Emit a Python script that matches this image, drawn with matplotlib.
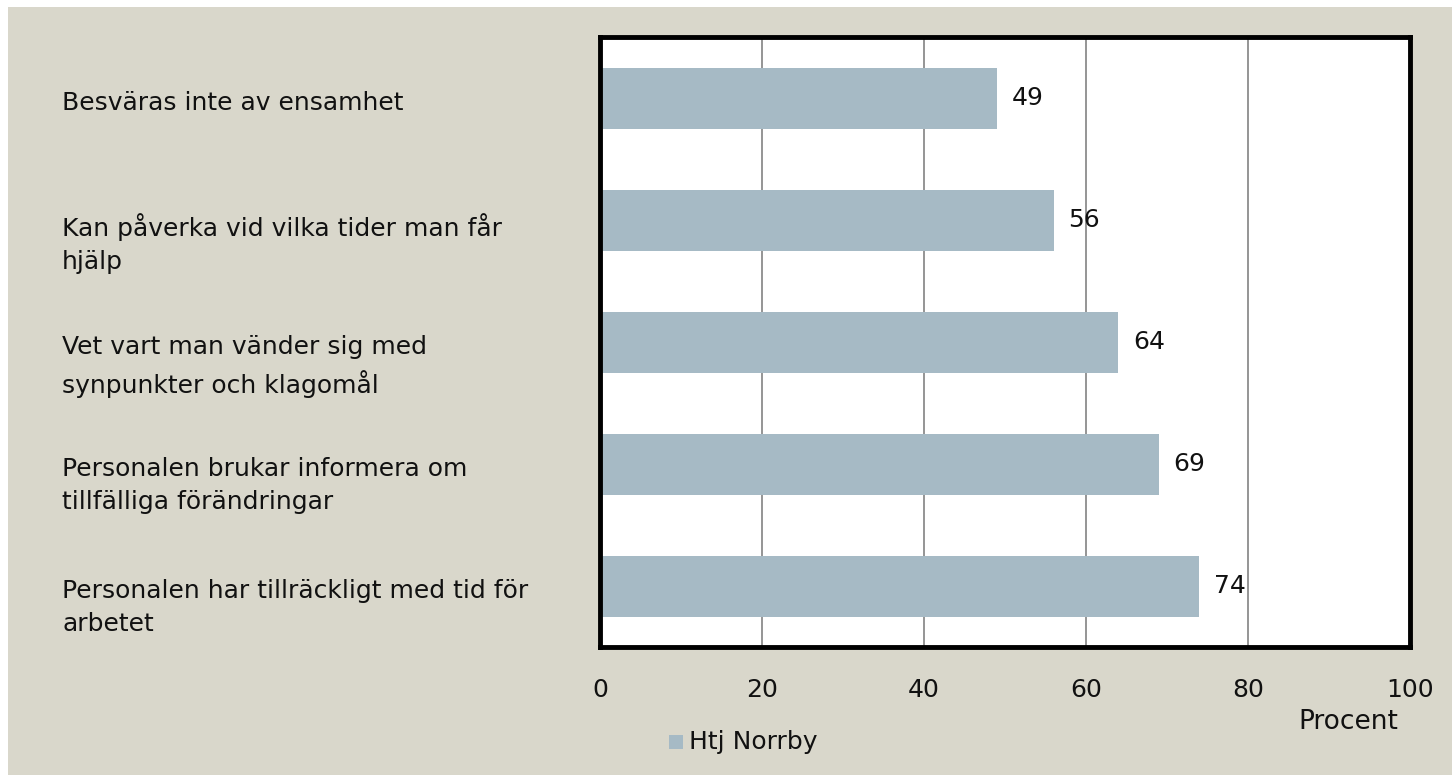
import matplotlib.pyplot as plt
from matplotlib.patches import Rectangle
import matplotlib.transforms as mtransforms

# Data
categories = [
    'Besväras inte av ensamhet',
    'Kan påverka vid vilka tider man får\nhjälp',
    'Vet vart man vänder sig med\nsynpunkter och klagomål',
    'Personalen brukar informera om\ntillfälliga förändringar',
    'Personalen har tillräckligt med tid för\narbetet',
]
values = [49, 56, 64, 69, 74]
series_name = 'Htj Norrby'
x_ticks = [0, 20, 40, 60, 80, 100]

bg_color = '#D9D7CB'
bar_color = '#A6BAC5'
font = 'DejaVu Sans'
fs = 18

plt.rcParams['font.family'] = font

fig = plt.figure(figsize=(14.52, 7.75), dpi=100)
fig.patch.set_facecolor('white')

# Beige background (thin white strip on top and left like the original)
fig.patches.append(Rectangle((8 / 1452, 0), 1, 1 - 7 / 775, transform=fig.transFigure,
                             facecolor=bg_color, edgecolor='none', zorder=-10))

ax = fig.add_axes([600 / 1452, 1 - 647 / 775, 810 / 1452, 610 / 775])
ax.set_facecolor('white')

ypos = list(range(len(categories)))
bars = ax.barh(ypos, values, height=0.5, color=bar_color, zorder=2)

ax.set_xlim(0, 100)
ax.set_ylim(len(categories) - 0.5, -0.5)
ax.set_xticks(x_ticks)
ax.set_xticklabels([str(t) for t in x_ticks], fontsize=fs, color='#111111')
ax.tick_params(axis='x', length=0, pad=22)
ax.set_yticks([])

for x in x_ticks[1:-1]:
    ax.axvline(x, color='#8C8C8C', linewidth=1.3, zorder=1)

for s in ax.spines.values():
    s.set_linewidth(3.5)
    s.set_color('black')

# value labels
for y, v in zip(ypos, values):
    ax.text(v + 1.8, y, str(v), ha='left', va='center', fontsize=fs, color='#111111', zorder=3)

# category labels, left aligned in the margin
trans = mtransforms.blended_transform_factory(fig.transFigure, ax.transData)
for y, c in zip(ypos, categories):
    ax.text(62 / 1452, y - 0.06, c, transform=trans, ha='left', va='top',
            fontsize=fs, color='#111111', linespacing=1.5)

# axis title
fig.text(1348 / 1452, 1 - 722 / 775, 'Procent', ha='center', va='center', fontsize=fs + 1, color='#111111')

# legend
fig.patches.append(Rectangle((669 / 1452, 1 - 749 / 775), 14 / 1452, 14 / 775,
                             transform=fig.transFigure, facecolor=bar_color, edgecolor='none'))
fig.text(689 / 1452, 1 - 742 / 775, series_name, ha='left', va='center', fontsize=fs, color='#111111')

fig.savefig('out.png', dpi=100, facecolor=fig.get_facecolor())
